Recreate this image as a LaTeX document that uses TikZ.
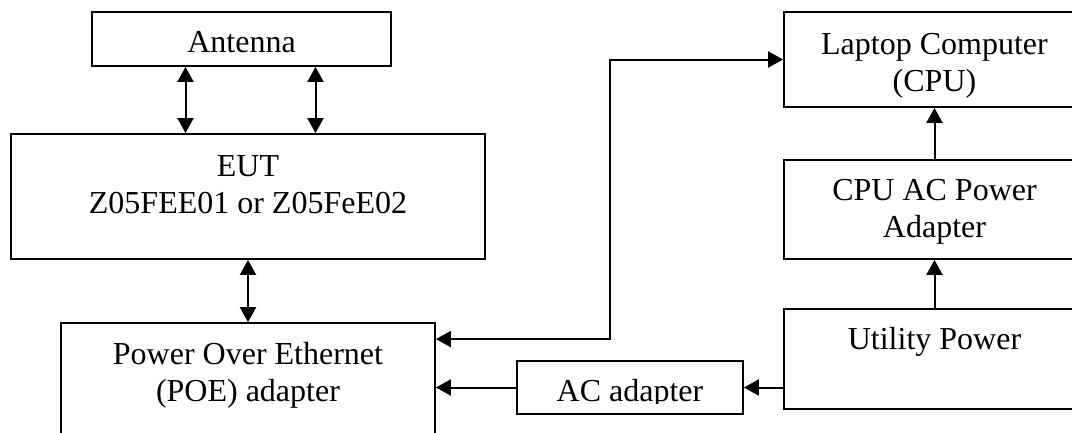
\documentclass[tikz,border=0pt]{standalone}
\usepackage{fontspec}
\setmainfont{Liberation Serif}
\usetikzlibrary{arrows.meta,positioning}

\tikzset{
  box/.style={draw, line width=1.8pt, inner sep=0pt, rectangle},
  txt/.style={inner sep=0pt, align=center, anchor=north, font=\fontsize{32}{37}\selectfont},
  feed/.style={line width=2pt, -{Triangle[length=15pt,width=16pt]}},
  link/.style={line width=2pt, {Triangle[length=15pt,width=16pt]}-{Triangle[length=15pt,width=16pt]}}
}

\begin{document}
\begin{tikzpicture}[x=1pt, y=-1pt]
\clip (0,0) rectangle (1072,432);

% left column
\node[box, minimum width=299pt, minimum height=54pt] (ant) at (241.5,39) {};
\node[txt] (anttext) at ([yshift=-20pt]ant.north) {Antenna};
\node[box, minimum width=474pt, minimum height=125pt] (eut) at (248,196.5) {};
\node[txt] (euttext) at ([yshift=-22pt]eut.north) {EUT\\Z05FEE01 or Z05FeE02};
\node[box, minimum width=374pt, minimum height=137pt] (poe) at (248,391.5) {};
\node[txt] (poetext) at ([yshift=-20pt]poe.north) {Power Over Ethernet\\(POE) adapter};
\node[box, minimum width=226pt, minimum height=53pt] (ac) at (630,387.5) {};
\begin{scope}
\clip ([yshift=11pt]ac.south west) rectangle (ac.north east);
\node[txt] (actext) at ([yshift=-19pt]ac.north) {AC adapter};
\end{scope}

% right column
\node[box, minimum width=301pt, minimum height=95pt] (lap) at (934.5,59.5) {};
\node[txt] (laptext) at ([yshift=-22pt]lap.north) {Laptop Computer\\(CPU)};
\node[box, minimum width=301pt, minimum height=99pt] (cpuac) at (934.5,209.5) {};
\node[txt] (cpuactext) at ([yshift=-20pt]cpuac.north) {CPU AC Power\\Adapter};
\node[box, minimum width=301pt, minimum height=100pt] (util) at (934.5,359) {};
\node[txt] (utiltext) at ([yshift=-19pt]util.north) {Utility Power};

\coordinate (bend) at (610,59.5);

\draw[link] ([xshift=-56pt]ant.south) -- ([xshift=-56pt]ant.south |- eut.north);
\draw[link] ([xshift=74pt]ant.south) -- ([xshift=74pt]ant.south |- eut.north);
\draw[link] (eut.south) -- (poe.north);
\draw[link] ([yshift=-17pt]poe.north east) -| (bend) -- (lap.west);
\draw[feed] (ac.west) -- (ac.west -| poe.east);
\draw[feed] (ac.east -| util.west) -- (ac.east);
\draw[feed] (util.north) -- (cpuac.south);
\draw[feed] (cpuac.north) -- (lap.south);
\end{tikzpicture}
\end{document}
